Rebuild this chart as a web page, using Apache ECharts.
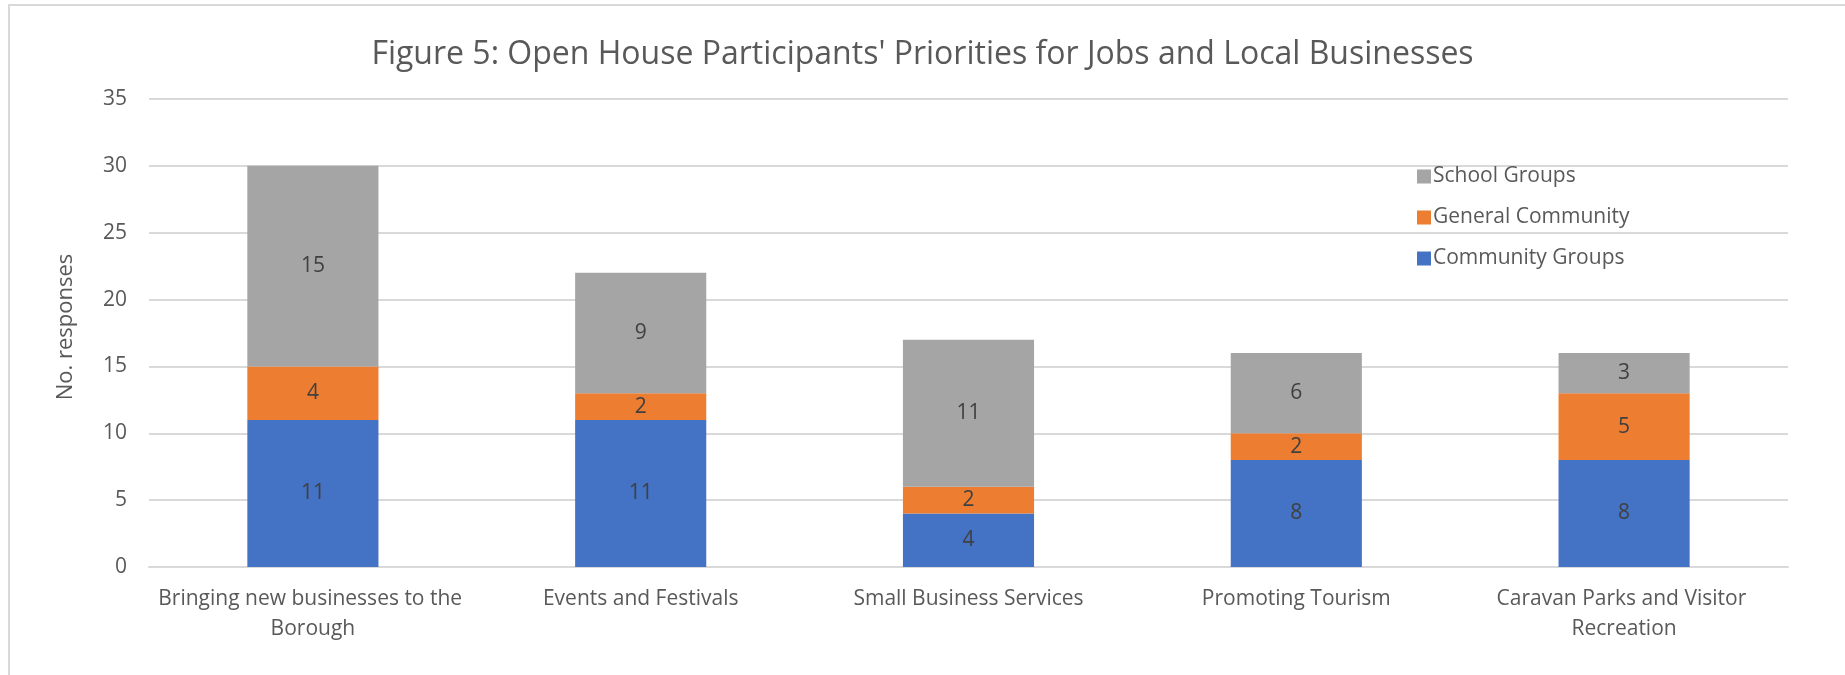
<!DOCTYPE html>
<html>
<head>
<meta charset="utf-8">
<script src="https://cdn.jsdelivr.net/npm/echarts@6/dist/echarts.min.js"></script>
<style>
html,body{margin:0;padding:0;background:#fff;}
#frame{position:absolute;left:8px;top:4px;width:1860px;height:700px;border-left:2px solid #D9D9D9;border-top:2px solid #D9D9D9;}
#chart{position:absolute;left:0;top:0;width:1845px;height:675px;}
</style>
</head>
<body>
<div id="frame"></div>
<div id="chart"></div>
<script>
const categories = ['Bringing new businesses to the Borough', 'Events and Festivals', 'Small Business Services', 'Promoting Tourism', 'Caravan Parks and Visitor Recreation'];
const communityGroups = [11, 11, 4, 8, 8];
const generalCommunity = [4, 2, 2, 2, 5];
const schoolGroups = [15, 9, 11, 6, 3];
const yTicks = [0, 5, 10, 15, 20, 25, 30, 35];

const FONT = 'Open Sans';
const TXT = '#595959';
const chart = echarts.init(document.getElementById('chart'));
const labelCfg = {show: true, position: 'inside', color: '#404040', fontFamily: FONT, fontSize: 21};
function s(name, data, color) {
  return {name, type: 'bar', stack: 'total', data, barCategoryGap: '60%',
    itemStyle: {color}, label: labelCfg, emphasis: {disabled: true}};
}
chart.setOption({
  animation: false,
  title: {text: "Figure 5: Open House Participants' Priorities for Jobs and Local Businesses",
    left: 'center', top: 34, textStyle: {fontFamily: FONT, fontSize: 32, fontWeight: 'normal', color: TXT}},
  legend: {orient: 'vertical', left: 1412, top: 161, itemWidth: 14, itemHeight: 14, itemGap: 20,
    icon: 'rect', data: ['School Groups', 'General Community', 'Community Groups'],
    textStyle: {fontFamily: FONT, fontSize: 21, color: TXT, padding: [0, 0, 0, -3]}},
  grid: {left: 149, right: 57, top: 99, bottom: 108},
  xAxis: {type: 'category', data: categories,
    axisLine: {lineStyle: {color: '#D9D9D9', width: 2}}, axisTick: {show: false},
    axisLabel: {color: TXT, fontFamily: FONT, fontSize: 21, margin: 17, lineHeight: 30, width: 322, overflow: 'break', interval: 0}},
  yAxis: {type: 'value', min: yTicks[0], max: yTicks[yTicks.length - 1], interval: 5,
    name: 'No. responses', nameLocation: 'middle', nameGap: 72,
    nameTextStyle: {fontFamily: FONT, fontSize: 22, color: TXT, padding: [0, 0, 0, 12]},
    axisLabel: {color: TXT, fontFamily: FONT, fontSize: 21, margin: 22},
    splitLine: {lineStyle: {color: '#D9D9D9', width: 2}}, axisLine: {show: false}, axisTick: {show: false}},
  series: [
    s('Community Groups', communityGroups, '#4472C4'),
    s('General Community', generalCommunity, '#ED7D31'),
    s('School Groups', schoolGroups, '#A5A5A5')
  ]
});
</script>
</body>
</html>
